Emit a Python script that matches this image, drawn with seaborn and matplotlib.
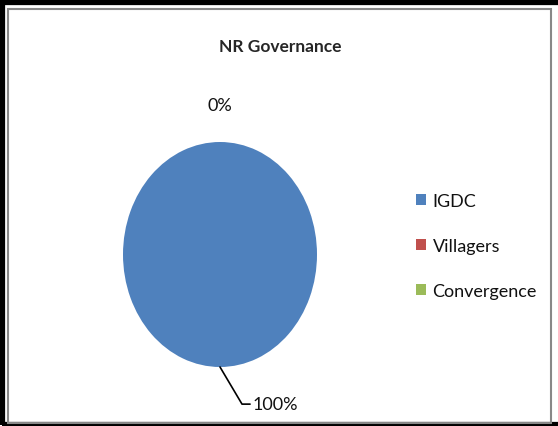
import matplotlib
matplotlib.use('Agg')
import matplotlib.pyplot as plt
from matplotlib.patches import Rectangle
import seaborn as sns
import numpy as np

# Chart data
categories = ['IGDC', 'Villagers', 'Convergence']
shares = [100, 0, 0]
colors = ['#4F81BD', '#C0504D', '#9BBB59']
title = 'NR Governance'

sns.set_style('white')
plt.rcParams['font.family'] = ['Lato', 'DejaVu Sans']

W, H = 558, 427
fig = plt.figure(figsize=(W / 100, H / 100), dpi=100)

# pie area (elliptical, like the original)
ax = fig.add_axes([123 / W, (H - 368) / H, 194 / W, 225 / H])
wedges, _ = ax.pie(shares, colors=colors, startangle=90, counterclock=False,
                   radius=1, wedgeprops=dict(linewidth=0))
ax.set_aspect('auto')
ax.set_xlim(-1, 1)
ax.set_ylim(-1, 1)
ax.axis('off')

# percentage labels
total = sum(shares)
pcts = [f'{v / total * 100:.0f}%' for v in shares]
ax.text(0, 1.33, pcts[1], ha='center', va='center', fontsize=13, color='#111111', clip_on=False)
ax.plot([0, 0.227, 0.31], [-1.0, -1.33, -1.33], color='black', lw=1.2, clip_on=False)
ax.text(0.335, -1.33, pcts[0], ha='left', va='center', fontsize=13, color='#111111', clip_on=False)

fig.text(0.502, 1 - 47 / H, title, ha='center', va='center', fontsize=12.5, fontweight='bold')

fig.legend(wedges, categories, loc='center left', bbox_to_anchor=(400 / W, 1 - 247 / H),
           frameon=False, fontsize=13, handlelength=0.55, handleheight=0.55,
           handletextpad=0.35, labelspacing=1.62, labelcolor='#111111')

# frame around the chart
fig.patches.append(Rectangle((2 / W, 1 / H), 1.2, (H - 4) / H, transform=fig.transFigure,
                             fill=False, edgecolor='black', lw=4.5))
fig.patches.append(Rectangle((8 / W, 3 / H), (551 - 8) / W, (H - 13) / H, transform=fig.transFigure,
                             fill=False, edgecolor='#888888', lw=1.5))

fig.savefig('out.png', dpi=100)
